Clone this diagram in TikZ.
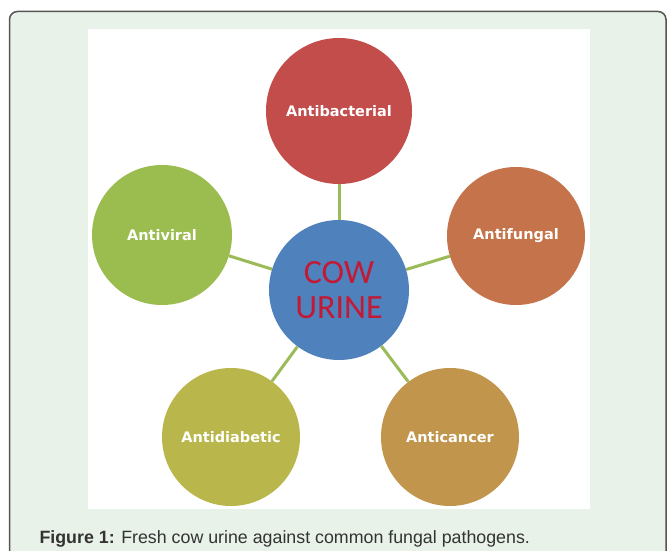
\documentclass[tikz,border=0pt]{standalone}
\usepackage{fontspec}
\setmainfont{Liberation Sans}
\newfontfamily\labelfont{DejaVu Sans}
\newfontfamily\hubfont{Carlito}

\definecolor{framefill}{HTML}{E8F2E8}
\definecolor{framegray}{HTML}{555555}
\definecolor{hubblue}{HTML}{4F81BD}
\definecolor{hubred}{HTML}{C21A35}
\definecolor{linkgreen}{HTML}{9BBB59}
\definecolor{bactred}{HTML}{C24D4B}
\definecolor{fungorange}{HTML}{C4734A}
\definecolor{cancergold}{HTML}{C1964C}
\definecolor{diabolive}{HTML}{B9B74B}
\definecolor{viralgreen}{HTML}{9BBD4F}
\definecolor{captiongray}{HTML}{333333}

\tikzset{
  hub/.style={circle, fill=hubblue, minimum size=140, inner sep=0pt,
    text=hubred, align=center, font=\hubfont\fontsize{34}{35}\selectfont},
  effect/.style={circle, inner sep=0pt, text=white,
    font=\labelfont\bfseries\fontsize{14.5}{16}\selectfont},
  link/.style={linkgreen, line width=3pt}
}

\begin{document}
\begin{tikzpicture}[x=1pt, y=-1pt]
  \useasboundingbox (0,0) rectangle (667,551);
  \clip (0,0) rectangle (667,551);

  % page frame and white figure area
  \draw[framegray, line width=1.5pt, fill=framefill, rounded corners=8pt]
    (9.5,11.5) rectangle (666,590);
  \fill[white] (88,29) rectangle (590,509);

  \node[hub] (urine) at (339,290) {COW\\URINE};

  \foreach \name/\x/\y/\rad/\col/\txt in {
      bact/339/111/73/bactred/Antibacterial,
      fung/516/236/69/fungorange/Antifungal,
      cancer/450/437/69/cancergold/Anticancer,
      diab/231/437/69/diabolive/Antidiabetic,
      viral/162/235/70/viralgreen/Antiviral} {
    \node[effect, fill=\col, minimum size=2*\rad] (\name) at (\x,\y) {\txt};
    \draw[link] (urine) -- (\name);
  }

  \node[anchor=base west, text=captiongray,
    font=\fontsize{17.8}{20}\selectfont] (caption) at (36,543)
    {\textbf{Figure 1:} Fresh cow urine against common fungal pathogens.};
\end{tikzpicture}
\end{document}
